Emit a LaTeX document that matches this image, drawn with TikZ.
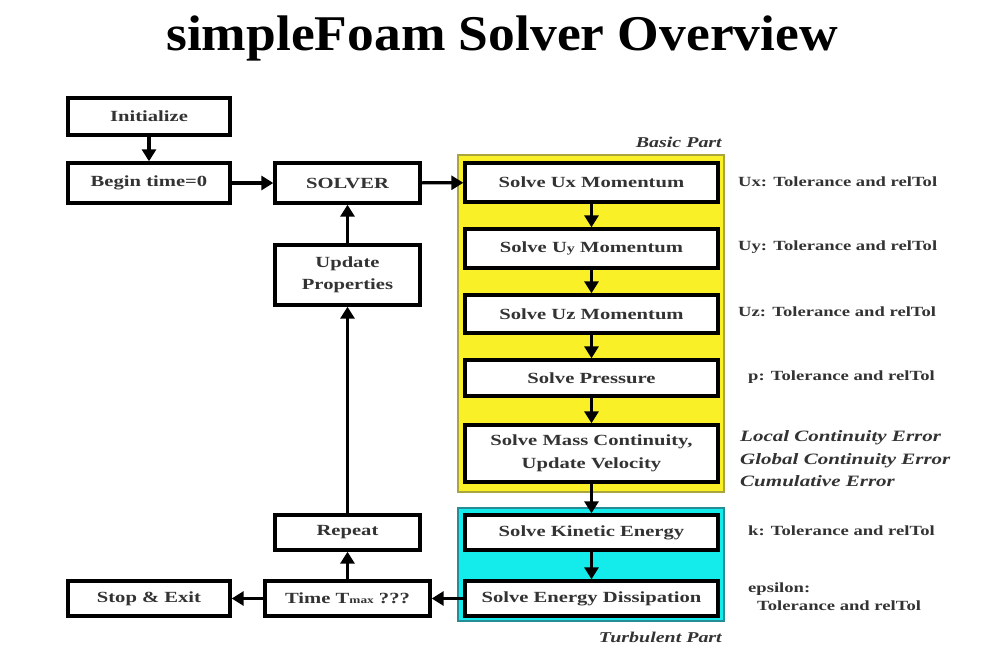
\documentclass[tikz,border=0pt]{standalone}
\usepackage{fontspec}
\setmainfont{Liberation Serif}[FakeStretch=1.33]
\newfontfamily\titlefont{Liberation Serif}[FakeStretch=1.07]
\usetikzlibrary{arrows.meta}
\tikzset{
  box/.style={draw=black, line width=3.4pt, fill=white, inner sep=1pt, align=center,
    font=\fontsize{15.5}{22.5}\selectfont\bfseries, text=black!80},
  conn/.style={line width=3.2pt, -{Triangle[length=12pt,width=14pt]}},
  note/.style={anchor=west, font=\fontsize{14}{18}\selectfont\bfseries, text=black!80, inner sep=0pt},
  inote/.style={anchor=west, font=\fontsize{15.8}{22.5}\selectfont\bfseries\itshape, text=black!80, inner sep=0pt, align=left},
  part/.style={font=\fontsize{15}{17}\selectfont\bfseries\itshape, text=black!80, inner sep=0pt},
}
\definecolor{ylw}{RGB}{250,240,40}
\definecolor{ylwb}{RGB}{170,165,60}
\definecolor{cyn}{RGB}{20,235,235}
\definecolor{cynb}{RGB}{40,140,150}
\begin{document}
\begin{tikzpicture}[x=1pt,y=-1pt]
\useasboundingbox[fill=white] (0,0) rectangle (986,667);
% title
\node[font=\titlefont\fontsize{50}{50}\selectfont\bfseries, inner sep=0pt] (title) at (502,38) {simpleFoam Solver Overview};
% background panels
\draw[fill=ylw, draw=ylwb, line width=1.5pt] (458,155) rectangle (724,492);
\draw[fill=cyn, draw=cynb, line width=1.5pt] (458,508) rectangle (724,621);
\node[part, anchor=east] (basic) at (722,142) {Basic Part};
\node[part, anchor=east] (turb) at (722,637) {Turbulent Part};
% left column
\node[box, minimum width=162pt, minimum height=37pt] (init) at (149,116.5) {Initialize};
\node[box, minimum width=162pt, minimum height=40pt] (begin) at (149,183) {Begin time=0};
\node[box, minimum width=145pt, minimum height=40pt] (solver) at (347.5,183) {SOLVER};
\node[box, minimum width=145pt, minimum height=60pt] (upd) at (347.5,275) {Update\\Properties};
\node[box, minimum width=145pt, minimum height=35pt] (rep) at (347.5,532.5) {Repeat};
\node[box, minimum width=165pt, minimum height=35pt] (time) at (347.5,598.5) {Time T{\fontsize{10}{10}\selectfont max} ???};
\node[box, minimum width=162pt, minimum height=35pt] (stop) at (149,598.5) {Stop \& Exit};
% right column
\node[box, minimum width=253pt, minimum height=39pt] (ux) at (591.5,182.5) {Solve Ux Momentum};
\node[box, minimum width=253pt, minimum height=39pt] (uy) at (591.5,248.5) {Solve U{\fontsize{12}{12}\selectfont y} Momentum};
\node[box, minimum width=253pt, minimum height=38pt] (uz) at (591.5,314) {Solve Uz Momentum};
\node[box, minimum width=253pt, minimum height=36pt] (pres) at (591.5,378) {Solve Pressure};
\node[box, minimum width=253pt, minimum height=57pt] (mass) at (591.5,453.5) {Solve Mass Continuity,\\Update Velocity};
\node[box, minimum width=253pt, minimum height=35pt] (ke) at (591.5,532.5) {Solve Kinetic Energy};
\node[box, minimum width=253pt, minimum height=35pt] (ed) at (591.5,598.5) {Solve Energy Dissipation};
% notes
\node[note] (nux) at (738,182) {Ux: Tolerance and relTol};
\node[note] (nuy) at (738,247) {Uy: Tolerance and relTol};
\node[note] (nuz) at (738,312) {Uz: Tolerance and relTol};
\node[note] (np) at (748,377) {p: Tolerance and relTol};
\node[inote] (nmass) at (740,459) {Local Continuity Error\\Global Continuity Error\\Cumulative Error};
\node[note] (nk) at (748,531) {k: Tolerance and relTol};
\node[note, align=left] (neps) at (748,597) {epsilon:\\\hspace*{9pt}Tolerance and relTol};
% connectors
\draw[conn] (init) -- (begin);
\draw[conn] (begin) -- (solver);
\draw[conn] (solver) -- (ux);
\draw[conn] (ux) -- (uy);
\draw[conn] (uy) -- (uz);
\draw[conn] (uz) -- (pres);
\draw[conn] (pres) -- (mass);
\draw[conn] (mass) -- (ke);
\draw[conn] (ke) -- (ed);
\draw[conn] (ed) -- (time);
\draw[conn] (time) -- (stop);
\draw[conn] (time) -- (rep);
\draw[conn] (rep) -- (upd);
\draw[conn] (upd) -- (solver);
\end{tikzpicture}
\end{document}
